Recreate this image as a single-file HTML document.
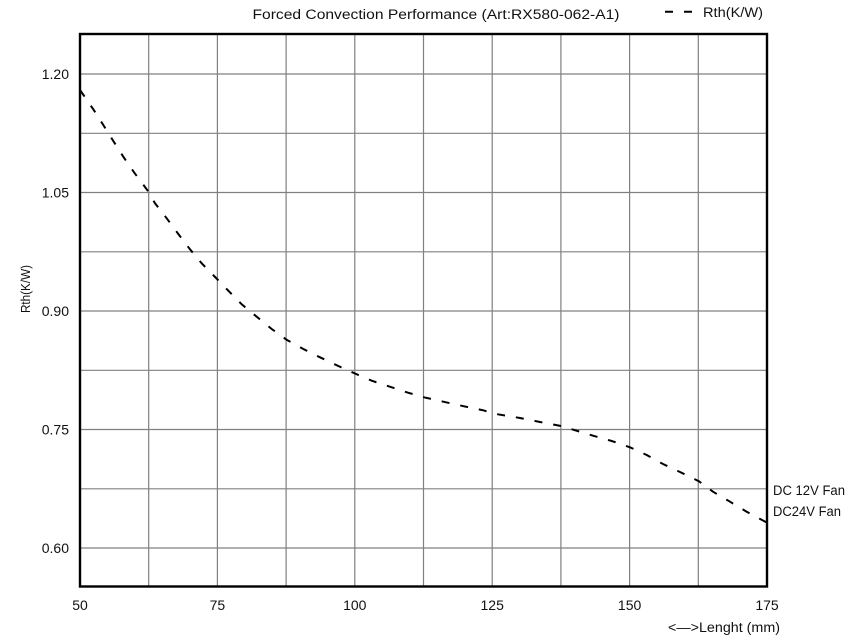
<!DOCTYPE html>
<html><head><meta charset="utf-8"><style>
html,body{margin:0;padding:0;background:#fff;}
svg{display:block;font-family:"Liberation Sans",Arial,sans-serif;}
</style></head><body>
<svg width="850" height="640" viewBox="0 0 850 640" xmlns="http://www.w3.org/2000/svg">
<rect width="850" height="640" fill="#fff"/>
<g stroke="#808080" stroke-width="1.2" fill="none">
<line x1="148.7" y1="34" x2="148.7" y2="587"/>
<line x1="217.4" y1="34" x2="217.4" y2="587"/>
<line x1="286.1" y1="34" x2="286.1" y2="587"/>
<line x1="354.8" y1="34" x2="354.8" y2="587"/>
<line x1="423.5" y1="34" x2="423.5" y2="587"/>
<line x1="492.2" y1="34" x2="492.2" y2="587"/>
<line x1="560.9" y1="34" x2="560.9" y2="587"/>
<line x1="629.6" y1="34" x2="629.6" y2="587"/>
<line x1="698.3" y1="34" x2="698.3" y2="587"/>
<line x1="80" y1="74" x2="767" y2="74"/>
<line x1="80" y1="133.3" x2="767" y2="133.3"/>
<line x1="80" y1="192.5" x2="767" y2="192.5"/>
<line x1="80" y1="251.8" x2="767" y2="251.8"/>
<line x1="80" y1="311" x2="767" y2="311"/>
<line x1="80" y1="370.3" x2="767" y2="370.3"/>
<line x1="80" y1="429.5" x2="767" y2="429.5"/>
<line x1="80" y1="488.8" x2="767" y2="488.8"/>
<line x1="80" y1="548" x2="767" y2="548"/>
</g>
<path d="M80,90 L93.3,109.3 L103.3,125 L113.3,141 L123.3,156.7 L134.3,172.7 L148,191 L155,203.3 L166.7,218.3 L178.3,234 L190,249.3 L201.7,263.3 L218,280 L228.3,290.7 L241.7,304.3 L256.7,316.7 L271.7,329 L287,340 L303.3,349 L320,357.3 L338.3,366 L355,373.5 L371.7,380.7 L391.7,387.3 L408,392.7 L424,397.3 L446,402.3 L464,406.3 L483.3,410.3 L493,413.5 L520,418 L540,422 L561,426 L593,435.7 L611.7,441 L630,447.3 L646.7,455 L663,464 L680,472 L699,481.3 L713,491.7 L730,501.7 L746.7,511.7 L767,522.7" fill="none" stroke="#000" stroke-width="2" stroke-dasharray="8 11"/>
<rect x="80" y="34" width="687" height="552.5" fill="none" stroke="#000" stroke-width="2.4"/>
<g font-size="14" fill="#111" text-anchor="end">
<text x="69" y="79">1.20</text>
<text x="69" y="197.5">1.05</text>
<text x="69" y="316">0.90</text>
<text x="69" y="434.5">0.75</text>
<text x="69" y="553">0.60</text>
</g>
<g font-size="14" fill="#111" text-anchor="middle">
<text x="80" y="610">50</text>
<text x="217.4" y="610">75</text>
<text x="354.8" y="610">100</text>
<text x="492.2" y="610">125</text>
<text x="629.6" y="610">150</text>
<text x="767" y="610">175</text>
</g>
<text x="252.5" y="19" font-size="13.5" fill="#111" textLength="367" lengthAdjust="spacingAndGlyphs">Forced  Convection Performance  (Art:RX580-062-A1)</text>
<line x1="665" y1="11.7" x2="692" y2="11.7" stroke="#000" stroke-width="2" stroke-dasharray="8 11"/>
<text x="703" y="17" font-size="13.5" fill="#111" textLength="60" lengthAdjust="spacingAndGlyphs">Rth(K/W)</text>
<text x="0" y="0" font-size="13" fill="#111" transform="translate(30,313) rotate(-90)" textLength="48" lengthAdjust="spacingAndGlyphs">Rth(K/W)</text>
<text x="668" y="632" font-size="13.5" fill="#111" textLength="112" lengthAdjust="spacingAndGlyphs">&lt;—&gt;Lenght (mm)</text>
<text x="773" y="495" font-size="13.5" fill="#111" textLength="72" lengthAdjust="spacingAndGlyphs">DC 12V Fan</text>
<text x="773" y="516" font-size="13.5" fill="#111" textLength="68" lengthAdjust="spacingAndGlyphs">DC24V Fan</text>
</svg>
</body></html>
